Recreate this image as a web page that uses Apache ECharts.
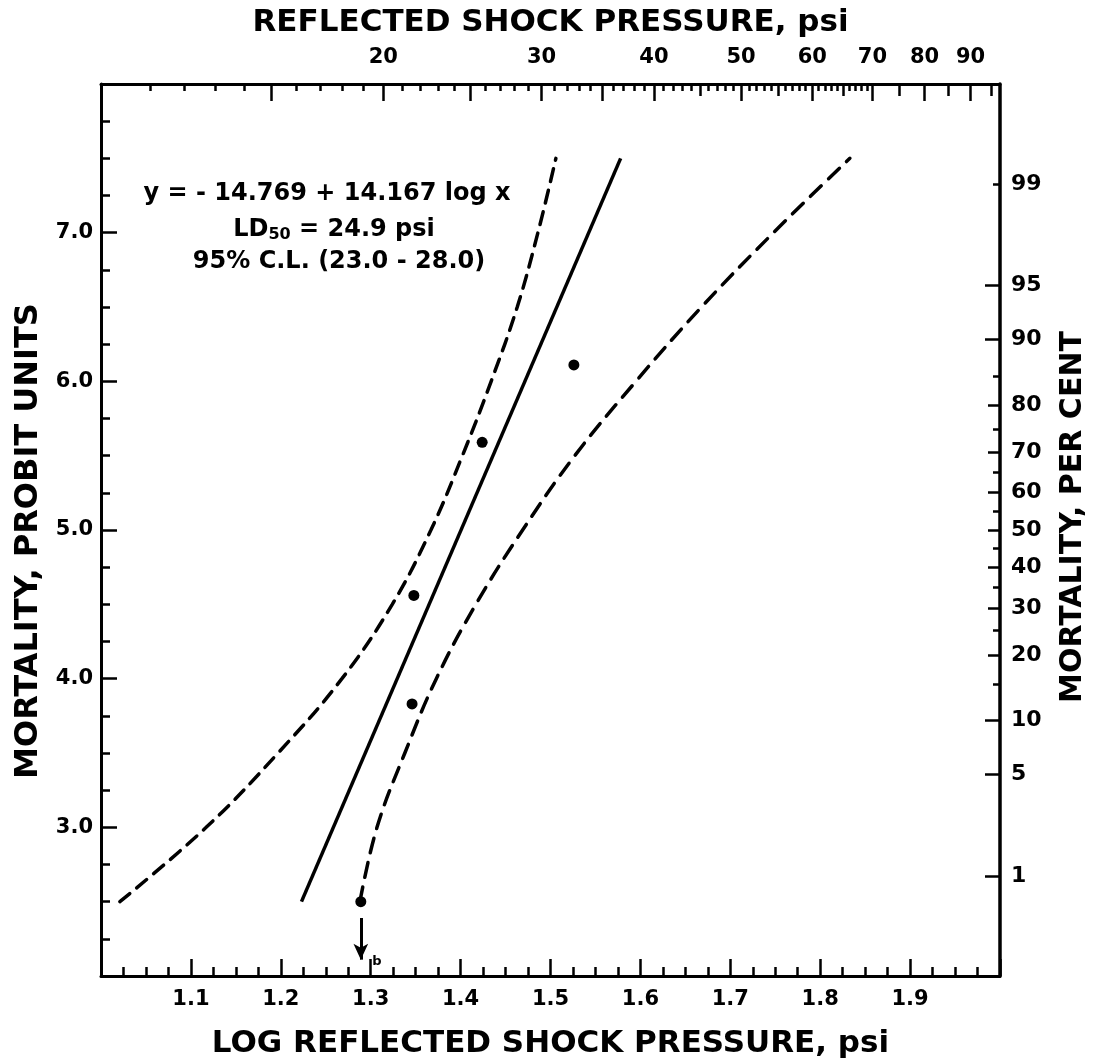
<!DOCTYPE html>
<html><head><meta charset="utf-8">
<script src="https://cdn.jsdelivr.net/npm/echarts@6/dist/echarts.min.js"></script>
<style>html,body{margin:0;padding:0;background:#fff}#c{width:1094px;height:1064px}</style>
</head><body><div id="c"></div>
<script>
// ---- data (x = log10 reflected shock pressure, y = probit) ----
const fitLine = [[1.223, 2.5], [1.578, 7.5]];
const lowerLimit = [
  [1.021, 2.5], [1.117, 3.0], [1.197, 3.5], [1.268, 4.0], [1.324, 4.5], [1.367, 5.0],
  [1.402, 5.5], [1.434, 6.0], [1.463, 6.5], [1.486, 7.0], [1.506, 7.5]
];
const upperLimit = [
  [1.288, 2.5], [1.307, 3.0], [1.338, 3.5], [1.373, 4.0], [1.417, 4.5], [1.469, 5.0],
  [1.527, 5.5], [1.595, 6.0], [1.668, 6.5], [1.748, 7.0], [1.833, 7.5]
];
const observed = [[1.289, 2.50], [1.346, 3.83], [1.348, 4.56], [1.424, 5.59], [1.526, 6.11]];
const arrowSegment = [[1.289, 2.39], [1.289, 2.11]];

// ---- axes / tick labels ----
const pressureLabels = [20, 30, 40, 50, 60, 70, 80, 90];
const pressureLongTicks = [15, 20, 25, 30, 35, 40, 50, 60, 70, 80, 90];
const pressureMidTicks = [45, 55, 65, 75, 85, 95];
const pressureShortTicks = [11,12,13,14,16,17,18,19,21,22,23,24,26,27,28,29,31,32,33,34,36,37,38,39,
  41,42,43,44,46,47,48,49,51,52,53,54,56,57,58,59,61,62,63,64,66,67,68,69];
const percentLabels = [1, 5, 10, 20, 30, 40, 50, 60, 70, 80, 90, 95, 99];
const percentLongTicks = [1, 5, 10, 90, 95];
const percentMidTicks = [20, 30, 40, 50, 60, 70, 80];
const percentShortTicks = [15, 25, 35, 45, 55, 65, 75, 85, 99];
const topLogRange = [0.987, 1.987];   // top pressure scale as drawn (slightly offset)

// inverse normal CDF (Acklam)
function invNorm(p) {
  const a=[-3.969683028665376e+01,2.209460984245205e+02,-2.759285104469687e+02,1.383577518672690e+02,-3.066479806614716e+01,2.506628277459239e+00];
  const b=[-5.447609879822406e+01,1.615858368580409e+02,-1.556989798598866e+02,6.680131188771972e+01,-1.328068155288572e+01];
  const c=[-7.784894002430293e-03,-3.223964580411365e-01,-2.400758277161838e+00,-2.549732539343734e+00,4.374664141464968e+00,2.938163982698783e+00];
  const d=[7.784695709041462e-03,3.224671290700398e-01,2.445134137142996e+00,3.754408661907416e+00];
  const pl=0.02425, ph=1-pl; let q,r;
  if (p<pl){q=Math.sqrt(-2*Math.log(p));return (((((c[0]*q+c[1])*q+c[2])*q+c[3])*q+c[4])*q+c[5])/((((d[0]*q+d[1])*q+d[2])*q+d[3])*q+1);}
  if (p<=ph){q=p-0.5;r=q*q;return (((((a[0]*r+a[1])*r+a[2])*r+a[3])*r+a[4])*r+a[5])*q/(((((b[0]*r+b[1])*r+b[2])*r+b[3])*r+b[4])*r+1);}
  q=Math.sqrt(-2*Math.log(1-p));return -(((((c[0]*q+c[1])*q+c[2])*q+c[3])*q+c[4])*q+c[5])/((((d[0]*q+d[1])*q+d[2])*q+d[3])*q+1);
}
const probit = pct => 5 + invNorm(pct / 100);
const lg = v => Math.log10(v);

const FONT = '"DejaVu Sans", sans-serif';
const INK = '#000';
const lbl = (size) => ({ color: INK, fontFamily: FONT, fontWeight: 'bold', fontSize: size });

const chart = echarts.init(document.getElementById('c'), null, { renderer: 'canvas' });

const grid = { left: 101, top: 84, width: 899, height: 892, containLabel: false, outerBoundsMode: 'none' };

function topAxis(ticks, len, withLabels, withLine) {
  return {
    type: 'value', position: 'top', gridIndex: 0,
    min: topLogRange[0], max: topLogRange[1],
    axisLine: { show: withLine, onZero: false, lineStyle: { color: INK, width: 3 } },
    axisTick: { show: true, inside: true, length: len, customValues: ticks.map(lg), lineStyle: { color: INK, width: 2.5 } },
    axisLabel: withLabels ? Object.assign(lbl(21), {
      show: true, margin: 16, customValues: pressureLabels.map(lg),
      formatter: v => String(Math.round(Math.pow(10, v)))
    }) : { show: false },
    splitLine: { show: false },
    name: withLabels ? 'REFLECTED SHOCK PRESSURE, psi' : '',
    nameLocation: 'middle', nameGap: 46, nameMoveOverlap: false,
    nameTextStyle: lbl(31)
  };
}

function rightAxis(ticks, len, withLabels, withLine) {
  return {
    type: 'value', position: 'right', gridIndex: 0, min: 2, max: 8,
    axisLine: { show: withLine, onZero: false, lineStyle: { color: INK, width: 3.5 } },
    axisTick: { show: true, inside: true, length: len, customValues: ticks.map(probit), lineStyle: { color: INK, width: 2.5 } },
    axisLabel: withLabels ? Object.assign(lbl(22), {
      show: true, margin: 11, customValues: percentLabels.map(probit),
      formatter: v => {
        for (const p of percentLabels) if (Math.abs(probit(p) - v) < 1e-6) return String(p);
        return '';
      }
    }) : { show: false },
    splitLine: { show: false },
    name: withLabels ? 'MORTALITY, PER CENT' : '',
    nameLocation: 'middle', nameGap: 58, nameRotate: 90, nameMoveOverlap: false,
    nameTextStyle: Object.assign(lbl(30), { padding: [0, 0, 0, 26] })
  };
}

const option = {
  animation: false,
  backgroundColor: '#fff',
  grid: grid,
  xAxis: [
    {
      type: 'value', position: 'bottom', min: 1.0, max: 2.0, interval: 0.1,
      axisLine: { show: true, onZero: false, lineStyle: { color: INK, width: 3 } },
      axisTick: { show: true, inside: true, length: 17, lineStyle: { color: INK, width: 2.5 } },
      minorTick: { show: true, splitNumber: 4, length: 9, lineStyle: { color: INK, width: 2.5 } },
      axisLabel: Object.assign(lbl(21), { margin: 13, showMinLabel: false, showMaxLabel: false,
        formatter: v => v.toFixed(1) }),
      splitLine: { show: false },
      name: 'LOG REFLECTED SHOCK PRESSURE, psi',
      nameLocation: 'middle', nameGap: 52, nameMoveOverlap: false,
      nameTextStyle: lbl(31)
    },
    topAxis(pressureLongTicks, 17, true, true),
    topAxis(pressureMidTicks, 12, false, false),
    topAxis(pressureShortTicks, 7, false, false)
  ],
  yAxis: [
    {
      type: 'value', position: 'left', min: 2, max: 8, interval: 1,
      axisLine: { show: true, onZero: false, lineStyle: { color: INK, width: 3 } },
      axisTick: { show: true, inside: true, length: 16, lineStyle: { color: INK, width: 2.5 } },
      minorTick: { show: true, splitNumber: 4, length: 9, lineStyle: { color: INK, width: 2.5 } },
      axisLabel: Object.assign(lbl(21), { margin: 8, showMinLabel: false, showMaxLabel: false,
        formatter: v => v.toFixed(1) }),
      splitLine: { show: false },
      name: 'MORTALITY, PROBIT UNITS',
      nameLocation: 'middle', nameGap: 56, nameRotate: 90, nameMoveOverlap: false,
      nameTextStyle: Object.assign(lbl(32), { padding: [0, 22, 0, 0] })
    },
    rightAxis(percentLongTicks, 15, true, true),
    rightAxis(percentMidTicks, 12, false, false),
    rightAxis(percentShortTicks, 7, false, false)
  ],
  series: [
    {
      type: 'line', name: 'fit', data: fitLine, xAxisIndex: 0, yAxisIndex: 0,
      symbol: 'none', lineStyle: { color: INK, width: 3.5 }, silent: true
    },
    {
      type: 'line', name: 'lower 95% limit', data: lowerLimit, xAxisIndex: 0, yAxisIndex: 0,
      smooth: 0.4, symbol: 'none',
      lineStyle: { color: INK, width: 3.5, type: [13, 9], cap: 'round' }, silent: true
    },
    {
      type: 'line', name: 'upper 95% limit', data: upperLimit, xAxisIndex: 0, yAxisIndex: 0,
      smooth: 0.4, symbol: 'none',
      lineStyle: { color: INK, width: 3.5, type: [15, 10], cap: 'round' }, silent: true,
      markLine: {
        silent: true, symbol: ['none', 'arrow'], symbolSize: [11, 16],
        label: { show: false },
        lineStyle: { color: INK, width: 3, type: 'solid' },
        data: [[{ coord: arrowSegment[0] }, { coord: arrowSegment[1] }]]
      }
    },
    {
      type: 'scatter', name: 'observed', data: observed, xAxisIndex: 0, yAxisIndex: 0,
      symbol: 'circle', symbolSize: 11, itemStyle: { color: INK, opacity: 1 }, silent: true
    }
  ],
  graphic: [
    { type: 'text', x: 327, y: 194, style: { text: 'y = - 14.769 + 14.167 log x', fill: INK,
        font: 'bold 24px "DejaVu Sans"', textAlign: 'center', textVerticalAlign: 'middle' } },
    { type: 'text', x: 334, y: 230, style: { text: '{m|LD}{s|50}{m| = 24.9 psi}', fill: INK,
        textAlign: 'center', textVerticalAlign: 'middle',
        rich: { m: { font: 'bold 24px "DejaVu Sans"', fill: INK },
                s: { font: 'bold 16px "DejaVu Sans"', fill: INK, verticalAlign: 'bottom', padding: [10, 0, 0, 0] } } } },
    { type: 'text', x: 339, y: 262, style: { text: '95% C.L. (23.0 - 28.0)', fill: INK,
        font: 'bold 24px "DejaVu Sans"', textAlign: 'center', textVerticalAlign: 'middle' } },
    { type: 'text', x: 377, y: 962, style: { text: 'b', fill: INK,
        font: 'bold 13px "DejaVu Sans"', textAlign: 'center', textVerticalAlign: 'middle' } }
  ]
};
chart.setOption(option);
</script>
</body></html>
